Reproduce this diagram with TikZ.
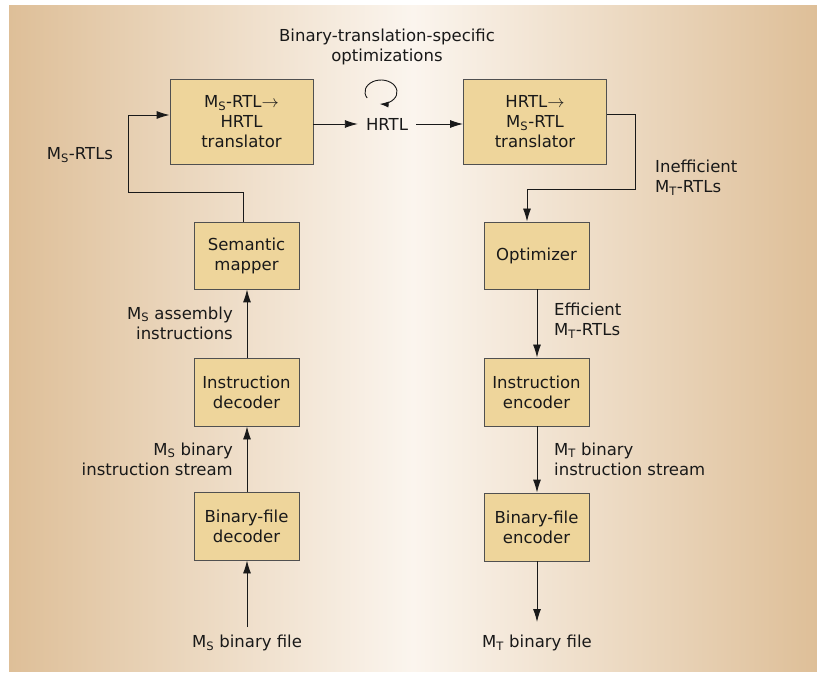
\documentclass[tikz,border=0pt]{standalone}
\usepackage{fontspec}
\setmainfont{DejaVu Sans}
\usetikzlibrary{arrows.meta}
\definecolor{bgedge}{RGB}{222,191,152}
\definecolor{bgmid}{RGB}{251,245,238}
\definecolor{boxfill}{RGB}{238,213,155}
\definecolor{boxline}{RGB}{80,80,80}
\definecolor{ink}{RGB}{25,25,25}
\newcommand\subS{\textsubscript{S}}
\newcommand\subT{\textsubscript{T}}
\newcommand\lblfont{\fontsize{16.5}{20}\selectfont}
\begin{document}
\begin{tikzpicture}[x=1pt,y=1pt,
  stage/.style={draw=boxline, fill=boxfill, line width=0.9pt, inner sep=0pt,
    align=center, text=ink, font=\lblfont},
  widebox/.style={stage, minimum width=143pt, minimum height=85pt},
  smallbox/.style={stage, minimum width=105pt, minimum height=67pt},
  lbl/.style={text=ink, font=\lblfont, inner sep=0pt},
  conn/.style={draw=ink, line width=0.9pt},
  arr/.style={conn, -{Latex[length=13pt,width=8pt]}}]
\useasboundingbox (0,0) rectangle (817,673);
\shade[left color=bgedge, right color=bgedge, middle color=bgmid] (9,2) rectangle (817,667);

% boxes
\node[widebox] (t1) at (241.5,551.5) {M\subS-RTL$\rightarrow$\\HRTL\\translator};
\node[widebox] (t2) at (535,551.5) {HRTL$\rightarrow$\\M\subS-RTL\\translator};
\node[smallbox] (sm) at (246.5,417.5) {Semantic\\mapper};
\node[smallbox] (opt) at (536.5,417.5) {Optimizer};
\node[smallbox, minimum height=68pt] (idec) at (246.5,281) {Instruction\\decoder};
\node[smallbox, minimum height=68pt] (ienc) at (536.5,281) {Instruction\\encoder};
\node[smallbox, minimum height=68pt] (bdec) at (246.5,147) {Binary-file\\decoder};
\node[smallbox, minimum height=68pt] (benc) at (536.5,146) {Binary-file\\encoder};

% text nodes
\node[lbl] (hrtl) at (387,549) {HRTL};
\node[lbl, align=center] (title) at (387,626) {Binary-translation-specific\\optimizations};
\node[lbl] (msrtls) at (80,518) {M\subS-RTLs};
\node[lbl, anchor=east, align=right] (masm) at (233,350) {M\subS\ assembly\\instructions};
\node[lbl, anchor=east, align=right] (mbin) at (233,214) {M\subS\ binary\\instruction stream};
\node[lbl, anchor=west, align=left] (eff) at (554,352) {Efficient\\M\subT-RTLs};
\node[lbl, anchor=west, align=left] (tbin) at (554,214) {M\subT\ binary\\instruction stream};
\node[lbl, anchor=west, align=left] (ineff) at (655,495) {Inefficient\\M\subT-RTLs};
\node[lbl] (msfile) at (247,30) {M\subS\ binary file};
\node[lbl] (mtfile) at (537,30) {M\subT\ binary file};

% helper coordinates
\coordinate (smx) at (243,0);
\coordinate (fb1) at (128,481);
\coordinate (fbin) at (0,558);
\coordinate (t2out) at (0,559);
\coordinate (rb) at (635,484);
\coordinate (optx) at (527,0);
\coordinate (srcin) at (247,46);
\coordinate (tgtout) at (537,51);
\coordinate (loopc) at (381,581);

% connectors
\draw[arr] (sm.north -| smx) |- (fb1) |- (t1.west |- fbin);
\draw[arr] (t1.east |- hrtl) -- ([xshift=-8pt]hrtl.west);
\draw[arr] ([xshift=8pt]hrtl.east) -- (t2.west |- hrtl);
\draw[arr] (t2.east |- t2out) -| (rb) -| (opt.north -| optx);
\draw[arr] (srcin) -- (bdec.south -| srcin);
\draw[arr] (bdec.north -| srcin) -- (idec.south -| srcin);
\draw[arr] (idec.north -| srcin) -- (sm.south -| srcin);
\draw[arr] (opt.south -| tgtout) -- (ienc.north -| tgtout);
\draw[arr] (ienc.south -| tgtout) -- (benc.north -| tgtout);
\draw[arr] (benc.south -| tgtout) -- (tgtout);
\draw[conn, -{Latex[length=9pt,width=6pt]}] (loopc) ++(210:16 and 12) arc[start angle=210, end angle=-95, x radius=16, y radius=12];
\end{tikzpicture}
\end{document}
